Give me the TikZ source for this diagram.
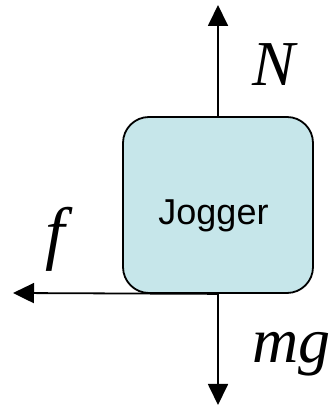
\documentclass[tikz,border=0pt]{standalone}
\usepackage{fontspec}
\setmainfont{Liberation Serif}
\newfontfamily\labelsans{Liberation Sans}
\usetikzlibrary{arrows.meta}
\definecolor{bodyfill}{RGB}{198,230,234}
\begin{document}
\begin{tikzpicture}[x=1pt, y=1pt,
    bodybox/.style={draw=black, line width=1.8pt, fill=bodyfill,
                    rounded corners=26pt, minimum width=190pt,
                    minimum height=176pt, inner sep=0pt},
    bodyname/.style={anchor=base, inner sep=0pt,
                     font=\labelsans\fontsize{36}{36}\selectfont},
    forcelabel/.style={anchor=base west, inner sep=0pt,
                       font=\fontsize{64}{64}\selectfont\itshape},
    force/.style={draw=black, line width=1.8pt,
                  -{Triangle[length=21pt, width=20pt]}}
  ]
    \useasboundingbox (0,0) rectangle (333,406);

    % the body
    \node[bodybox]  (jogger) at (218,201) {};
    \node[bodyname] (jname)  at (213.5,181) {Jogger};

    % free ends of the forces
    \coordinate (ntip) at (218,401);
    \coordinate (gtip) at (218,1);
    \coordinate (ftip) at (13,113);

    \draw[force] (jogger.north) -- (ntip);
    \draw[force] (jogger.south) -- (gtip);
    \draw[force] (jogger.south) -- (ftip);

    \node[forcelabel] (nlabel) at (252,320) {N};
    \node[forcelabel] (glabel) at (252,43)  {mg};
    \node[forcelabel, font=\fontsize{70}{70}\selectfont\itshape]
      (flabel) at (45,149) {f};
  \end{tikzpicture}
\end{document}
